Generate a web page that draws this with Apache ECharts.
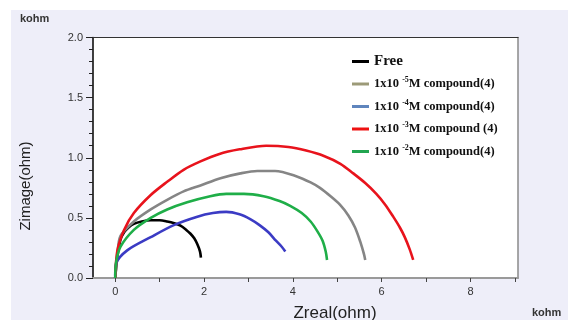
<!DOCTYPE html>
<html>
<head>
<meta charset="utf-8">
<script src="https://cdn.jsdelivr.net/npm/echarts@6/dist/echarts.min.js"></script>
<style>
html,body{margin:0;padding:0;background:#fff;}
#chart{width:568px;height:320px;}
</style>
</head>
<body>
<div id="chart"></div>
<script>
// ---- data (Zreal, Zimage in kohm) ----
var seriesNames = ['Free', '1x10-5M compound(4)', '1x10-4M compound(4)', '1x10-3M compound (4)', '1x10-2M compound(4)'];
var legendLabels = ['{big|Free}', '1x10 {sup|-5}M compound(4)', '1x10 {sup|-4}M compound(4)', '1x10 {sup|-3}M compound (4)', '1x10 {sup|-2}M compound(4)'];
var xTickLabels = [0, 2, 4, 6, 8];
var xTicks = [0, 1, 2, 3, 4, 5, 6, 7, 8, 9];

var freeData = [[0,0],[0.05,0.18],[0.12,0.32],[0.2,0.38],[0.3,0.42],[0.42,0.45],[0.6,0.47],[0.8,0.48],[1.0,0.48],[1.17,0.47],[1.33,0.455],[1.47,0.435],[1.6,0.40],[1.69,0.37],[1.78,0.33],[1.85,0.28],[1.91,0.22],[1.93,0.17]];
var c5Data = [[0,0],[0.05,0.2],[0.12,0.35],[0.42,0.47],[0.8,0.57],[1.17,0.65],[1.54,0.72],[1.92,0.77],[2.37,0.83],[2.82,0.87],[3.2,0.89],[3.6,0.89],[4.09,0.845],[4.4,0.795],[4.61,0.75],[4.85,0.68],[5.06,0.61],[5.25,0.52],[5.4,0.42],[5.52,0.30],[5.6,0.20],[5.63,0.15]];
var c4Data = [[0,0.02],[0.02,0.12],[0.27,0.23],[0.8,0.34],[1.32,0.44],[1.85,0.51],[2.2,0.54],[2.5,0.55],[2.8,0.53],[3.04,0.49],[3.25,0.44],[3.45,0.38],[3.62,0.31],[3.75,0.26],[3.83,0.22]];
var c3Data = [[0,0],[0.05,0.23],[0.2,0.4],[0.42,0.54],[0.8,0.69],[1.17,0.8],[1.54,0.9],[1.92,0.97],[2.33,1.03],[2.8,1.07],[3.4,1.10],[3.9,1.09],[4.3,1.06],[4.7,1.015],[5.07,0.95],[5.36,0.87],[5.63,0.79],[5.88,0.70],[6.08,0.61],[6.26,0.51],[6.41,0.42],[6.52,0.34],[6.63,0.24],[6.71,0.15]];
var c2Data = [[0,0],[0.02,0.13],[0.12,0.26],[0.42,0.40],[0.8,0.50],[1.17,0.57],[1.62,0.63],[2.14,0.68],[2.5,0.70],[2.9,0.70],[3.34,0.68],[3.7,0.64],[3.94,0.60],[4.2,0.54],[4.4,0.47],[4.55,0.39],[4.67,0.31],[4.74,0.22],[4.77,0.15]];

var lineColors = ['#000000', '#858585', '#3b3bc4', '#e8131c', '#1fae48'];
var legendColors = ['#000000', '#9c9a78', '#5f85bd', '#ee1111', '#22a550'];
var allData = [freeData, c5Data, c4Data, c3Data, c2Data];

var chart = echarts.init(document.getElementById('chart'), null, {renderer: 'canvas'});

var series = allData.map(function (d, i) {
  return {
    name: seriesNames[i],
    type: 'line',
    data: d,
    smooth: 0.3,
    showSymbol: false,
    symbol: 'none',
    lineStyle: {color: lineColors[i], width: 2.6},
    itemStyle: {color: lineColors[i]},
    z: 3
  };
});

var labelMap = {};
seriesNames.forEach(function (n, i) { labelMap[n] = legendLabels[i]; });

chart.setOption({
  animation: false,
  backgroundColor: 'transparent',
  grid: {left: 93, right: 50, top: 37.5, bottom: 42, show: true, backgroundColor: '#ffffff', borderWidth: 0},
  graphic: [
    {type: 'rect', z: -100, silent: true, shape: {x: 11, y: 10, width: 560, height: 312}, style: {fill: '#eeeef9'}},
    {type: 'text', z: 10, left: 20, top: 13, style: {text: 'kohm', font: 'bold 11px "Liberation Sans", Arial', fill: '#333'}},
    {type: 'text', z: 10, left: 532, top: 307, style: {text: 'kohm', font: 'bold 11px "Liberation Sans", Arial', fill: '#333'}},
    {type: 'text', z: 10, x: 335, y: 313, style: {text: 'Zreal(ohm)', font: '17px "Liberation Sans", Arial', fill: '#222', align: 'center', verticalAlign: 'middle'}},
    {type: 'text', z: 10, x: 25.5, y: 186, rotation: Math.PI / 2, style: {text: 'Zimage(ohm)', font: '15px "Liberation Sans", Arial', fill: '#222', align: 'center', verticalAlign: 'middle'}}
  ],
  legend: {
    orient: 'vertical',
    left: 347,
    top: 48.5,
    itemWidth: 17,
    itemHeight: 3,
    itemGap: 6.5,
    icon: 'rect',
    data: seriesNames.map(function (n, i) {
      return {name: n, icon: 'rect', itemStyle: {color: legendColors[i]}, lineStyle: {color: legendColors[i]}};
    }),
    formatter: function (name) { return labelMap[name]; },
    textStyle: {
      fontFamily: '"Liberation Serif", "Times New Roman", serif',
      fontWeight: 'bold',
      fontSize: 12.5,
      color: '#111',
      lineHeight: 16,
      rich: {
        big: {fontFamily: '"Liberation Serif", serif', fontWeight: 'bold', fontSize: 15, lineHeight: 16, color: '#111'},
        sup: {fontFamily: '"Liberation Serif", serif', fontWeight: 'bold', fontSize: 8, lineHeight: 9, verticalAlign: 'top', color: '#111'}
      }
    }
  },
  xAxis: [
    {
      type: 'value',
      min: -0.5,
      max: 9.07,
      position: 'bottom',
      axisLine: {show: true, onZero: false, lineStyle: {color: '#9a9a9a', width: 2}},
      axisTick: {show: true, customValues: xTicks, length: 4, lineStyle: {color: '#444', width: 1}},
      axisLabel: {customValues: xTickLabels, color: '#333', fontSize: 11, fontFamily: '"Liberation Sans", Arial', margin: 8},
      splitLine: {show: false}
    },
    {
      type: 'value',
      min: -0.5,
      max: 9.07,
      position: 'top',
      axisLine: {show: true, onZero: false, lineStyle: {color: '#333', width: 1.2}},
      axisTick: {show: false},
      axisLabel: {show: false},
      splitLine: {show: false}
    }
  ],
  yAxis: [
    {
      type: 'value',
      min: 0,
      max: 2,
      interval: 0.5,
      position: 'left',
      axisLine: {show: true, onZero: false, lineStyle: {color: '#000', width: 1.5}},
      axisTick: {show: true, length: 7, lineStyle: {color: '#222', width: 1}},
      minorTick: {show: true, splitNumber: 5, length: 4, lineStyle: {color: '#222', width: 1}},
      axisLabel: {color: '#333', fontSize: 11, fontFamily: '"Liberation Sans", Arial', margin: 10,
        formatter: function (v) { return v.toFixed(1); }},
      splitLine: {show: false}
    },
    {
      type: 'value',
      min: 0,
      max: 2,
      position: 'right',
      axisLine: {show: true, onZero: false, lineStyle: {color: '#8a8a8a', width: 1.5}},
      axisTick: {show: false},
      axisLabel: {show: false},
      splitLine: {show: false}
    }
  ],
  series: series
});
</script>
</body>
</html>
